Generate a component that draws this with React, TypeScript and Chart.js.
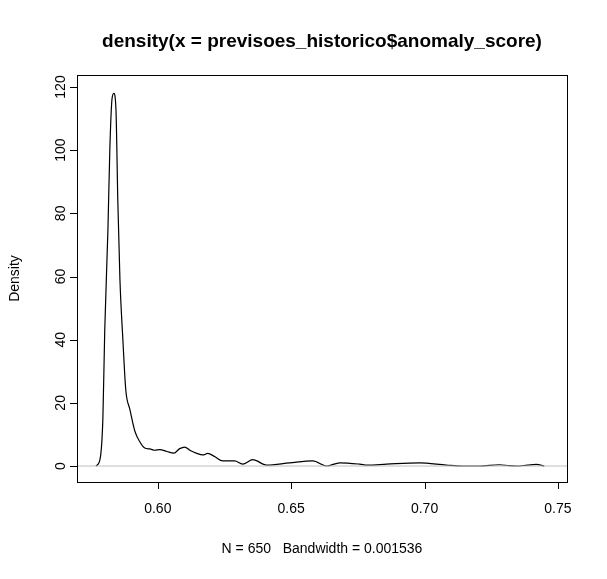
import React, { useEffect, useRef } from 'react';
import { Chart, registerables } from 'chart.js';

Chart.register(...registerables);

const xValues = [0.5768, 0.5783, 0.5794, 0.5801, 0.5813, 0.582, 0.5828, 0.5835, 0.5843, 0.585, 0.5858, 0.5869, 0.588, 0.5895, 0.5914, 0.5933, 0.5951, 0.597, 0.5989, 0.6007, 0.6034, 0.606, 0.6082, 0.6101, 0.612, 0.6146, 0.6169, 0.6187, 0.6213, 0.6243, 0.6288, 0.6318, 0.6356, 0.6408, 0.6494, 0.6581, 0.6633, 0.6682, 0.6757, 0.6787, 0.6858, 0.6981, 0.7082, 0.7142, 0.7206, 0.7281, 0.7318, 0.7345, 0.7386, 0.7419, 0.7449];
const densityValues = [0, 2, 15, 43, 75, 100, 116, 118, 113, 84, 59, 40, 24, 18, 11, 7.6, 5.7, 5.4, 5, 5.2, 4.6, 4.1, 5.5, 6, 5, 4, 3.5, 4, 3, 1.6, 1.6, 0.6, 2, 0.3, 1, 1.6, 0, 1, 0.6, 0.3, 0.6, 1, 0.3, 0, 0, 0.4, 0.1, 0, 0.3, 0.5, 0];
const xTicks = [0.6, 0.65, 0.7, 0.75];
const yTicks = [0, 20, 40, 60, 80, 100, 120];

const rAxes = {
  id: 'rAxes',
  afterDraw(chart: Chart) {
    const { ctx, chartArea: a } = chart;
    const xs = chart.scales.x;
    const ys = chart.scales.y;
    ctx.save();
    ctx.strokeStyle = '#000';
    ctx.fillStyle = '#000';
    ctx.lineWidth = 1;
    ctx.strokeRect(a.left + 0.5, a.top + 0.5, a.right - a.left, a.bottom - a.top);
    ctx.font = '14px Arial, "Liberation Sans", sans-serif';
    ctx.textAlign = 'center';
    ctx.textBaseline = 'middle';
    ctx.beginPath();
    for (const t of xTicks) {
      const px = Math.round(xs.getPixelForValue(t)) + 0.5;
      ctx.moveTo(px, a.bottom);
      ctx.lineTo(px, a.bottom + 7);
    }
    for (const t of yTicks) {
      const py = Math.round(ys.getPixelForValue(t)) + 0.5;
      ctx.moveTo(a.left, py);
      ctx.lineTo(a.left - 7, py);
    }
    ctx.stroke();
    for (const t of xTicks) ctx.fillText(t.toFixed(2), xs.getPixelForValue(t), a.bottom + 27);
    for (const t of yTicks) {
      ctx.save();
      ctx.translate(a.left - 16, ys.getPixelForValue(t));
      ctx.rotate(-Math.PI / 2);
      ctx.fillText(String(t), 0, 0);
      ctx.restore();
    }
    ctx.fillText('N = 650   Bandwidth = 0.001536', (a.left + a.right) / 2, 549);
    ctx.save();
    ctx.translate(15, (a.top + a.bottom) / 2);
    ctx.rotate(-Math.PI / 2);
    ctx.fillText('Density', 0, 0);
    ctx.restore();
    ctx.font = 'bold 19px Arial, "Liberation Sans", sans-serif';
    ctx.fillText('density(x = previsoes_historico$anomaly_score)', (a.left + a.right) / 2, 42);
    ctx.restore();
  },
};

const App: React.FC = () => {
  const chartRef = useRef<HTMLCanvasElement>(null);
  const chartInstance = useRef<Chart | null>(null);

  useEffect(() => {
    document.body.style.margin = '0';
    if (!chartRef.current) return;
    const ctx = chartRef.current.getContext('2d');
    if (!ctx) return;
    if (chartInstance.current) chartInstance.current.destroy();

    chartInstance.current = new Chart(ctx, {
      type: 'line',
      data: {
        datasets: [
          {
            data: [{ x: 0.5697, y: 0 }, { x: 0.7534, y: 0 }],
            borderColor: '#bebebe',
            borderWidth: 1,
            pointRadius: 0,
          },
          {
            data: xValues.map((x, i) => ({ x, y: densityValues[i] })),
            borderColor: '#000',
            borderWidth: 1.2,
            pointRadius: 0,
            cubicInterpolationMode: 'monotone',
          },
        ],
      },
      options: {
        animation: false,
        responsive: false,
        layout: { padding: { left: 77, right: 40, top: 75, bottom: 97 } },
        plugins: { legend: { display: false }, tooltip: { enabled: false } },
        scales: {
          x: { type: 'linear', min: 0.5697, max: 0.7534, display: false },
          y: { min: -5.06, max: 123.8, display: false },
        },
      },
      plugins: [rAxes],
    });

    return () => {
      chartInstance.current?.destroy();
      chartInstance.current = null;
    };
  }, []);

  return <canvas ref={chartRef} width={607} height={579} style={{ display: 'block' }} />;
};

export default App;
